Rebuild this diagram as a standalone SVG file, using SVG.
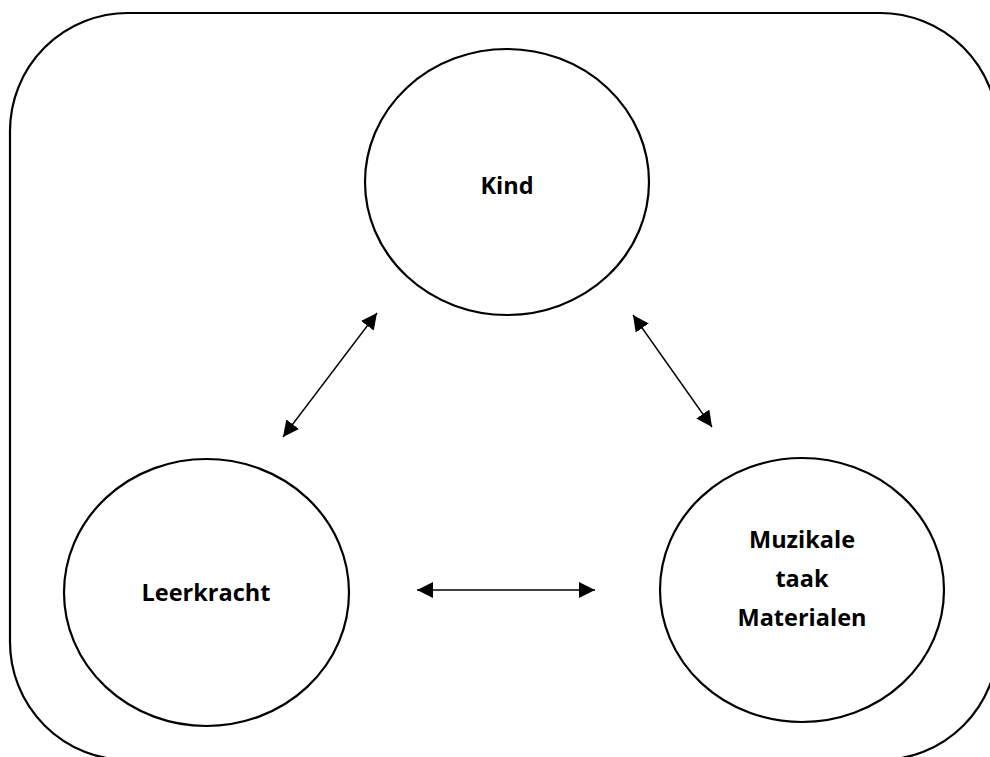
<svg xmlns="http://www.w3.org/2000/svg" width="990" height="757" viewBox="0 0 990 757">
<style>
.shape{fill:#fff;stroke:#000;stroke-width:2.2}
.lbl{font-family:"Open Sans","Liberation Sans",sans-serif;font-weight:bold;font-size:23.5px;fill:#000;text-anchor:middle}
.conn{stroke:#000;stroke-width:1.4;fill:none;marker-start:url(#ah);marker-end:url(#ah)}
</style>
<defs>
<marker id="ah" markerUnits="userSpaceOnUse" markerWidth="18" markerHeight="16" refX="16" refY="8" orient="auto-start-reverse" viewBox="0 0 18 16">
<path d="M0,0 L16,8 L0,16 Z" fill="#000"/>
</marker>
</defs>
<rect width="990" height="757" fill="#fff"/>
<rect id="frame" class="shape" x="10" y="13" width="988" height="747" rx="118" ry="118"/>
<g id="kind"><ellipse class="shape" cx="507" cy="182" rx="142" ry="133"/><text class="lbl" x="507" y="194">Kind</text></g>
<g id="leerkracht"><ellipse class="shape" cx="206.5" cy="592.5" rx="142.5" ry="133.5"/><text class="lbl" x="206" y="601">Leerkracht</text></g>
<g id="muzikale"><ellipse class="shape" cx="802" cy="590" rx="142" ry="132"/><text class="lbl" x="802" y="548">Muzikale</text><text class="lbl" x="802" y="587">taak</text><text class="lbl" x="802" y="626">Materialen</text></g>
<g id="connectors">
<line class="conn" x1="283" y1="437" x2="377" y2="313"/>
<line class="conn" x1="633" y1="315" x2="712" y2="427"/>
<line class="conn" x1="417" y1="590" x2="595" y2="590"/>
</g>
</svg>
